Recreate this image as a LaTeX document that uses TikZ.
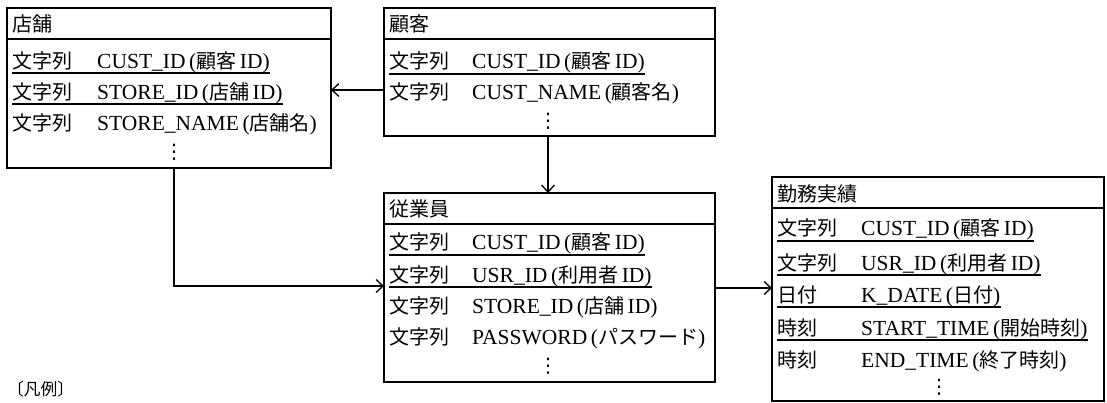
\documentclass[tikz,border=0pt]{standalone}
\usepackage{fontspec}
\setmainfont{Liberation Serif}
\newfontfamily\jpf{Noto Sans CJK JP}[Scale=0.93]
\newfontfamily\symf{DejaVu Sans}
\usetikzlibrary{arrows.meta}
\newcommand\J[1]{{\jpf #1}}
\begin{document}
\begin{tikzpicture}[x=1pt,y=-1pt,
 ent/.style={draw, line width=1.5pt, rectangle, inner sep=0, outer sep=0, anchor=north west},
 txt/.style={inner sep=0, anchor=base west, font=\fontsize{21.5}{25}\selectfont},
 legend/.style={inner sep=0, anchor=base west, font=\fontsize{18}{22}\selectfont},
 ul/.style={line width=1.3pt},
 sepline/.style={line width=1.5pt},
 arr/.style={line width=1.3pt, -{Straight Barb[length=7pt,width=13pt]}},
 dotsn/.style={inner sep=0, font=\symf\fontsize{20}{24}\selectfont}]
\useasboundingbox (0,0) rectangle (1107,403);

% ---------- boxes ----------
\node[ent, minimum width=324pt, minimum height=160pt] (store) at (7,8) {};
\node[ent, minimum width=331pt, minimum height=128pt] (cust) at (384,8) {};
\node[ent, minimum width=331pt, minimum height=189pt] (emp) at (384,193) {};
\node[ent, minimum width=332pt, minimum height=224pt] (work) at (772,177) {};

\draw[sepline] (store.west |- 0,39) -- (store.east |- 0,39);
\draw[sepline] (cust.west |- 0,39) -- (cust.east |- 0,39);
\draw[sepline] (emp.west |- 0,224) -- (emp.east |- 0,224);
\draw[sepline] (work.west |- 0,208) -- (work.east |- 0,208);

% ---------- 店舗 ----------
\node[txt] (st0) at (12,32) {\J{店舗}};
\node[txt] (st1a) at (12,69) {\J{文字列}};
\node[txt] (st1b) at (97,69) {CUST\_ID\,(\J{顧客}\,ID)};
\node[txt] (st2a) at (12,100) {\J{文字列}};
\node[txt] (st2b) at (97,100) {STORE\_ID\,(\J{店舗}\,ID)};
\node[txt] (st3a) at (12,131) {\J{文字列}};
\node[txt] (st3b) at (97,131) {STORE\_NAME\,(\J{店舗名})};
\node[dotsn] (std) at (174,152) {⋮};
\draw[ul] ([yshift=-4pt]st1a.base west) -- ([yshift=-4pt]st1b.base east);
\draw[ul] ([yshift=-4pt]st2a.base west) -- ([yshift=-4pt]st2b.base east);

% ---------- 顧客 ----------
\node[txt] (cu0) at (389,32) {\J{顧客}};
\node[txt] (cu1a) at (389,69) {\J{文字列}};
\node[txt] (cu1b) at (472,69) {CUST\_ID\,(\J{顧客}\,ID)};
\node[txt] (cu2a) at (389,100) {\J{文字列}};
\node[txt] (cu2b) at (472,100) {CUST\_NAME\,(\J{顧客名})};
\node[dotsn] (cud) at (548,121) {⋮};
\draw[ul] ([yshift=-5pt]cu1a.base west) -- ([yshift=-5pt]cu1b.base east);

% ---------- 従業員 ----------
\node[txt] (em0) at (389,217) {\J{従業員}};
\node[txt] (em1a) at (389,250) {\J{文字列}};
\node[txt] (em1b) at (472,250) {CUST\_ID\,(\J{顧客}\,ID)};
\node[txt] (em2a) at (389,282) {\J{文字列}};
\node[txt] (em2b) at (472,282) {USR\_ID\,(\J{利用者}\,ID)};
\node[txt] (em3a) at (389,313) {\J{文字列}};
\node[txt] (em3b) at (472,313) {STORE\_ID\,(\J{店舗}\,ID)};
\node[txt] (em4a) at (389,344) {\J{文字列}};
\node[txt] (em4b) at (472,344) {PASSWORD\,(\J{パスワード})};
\node[dotsn] (emd) at (548,366) {⋮};
\draw[ul] ([yshift=-5pt]em1a.base west) -- ([yshift=-5pt]em1b.base east);
\draw[ul] ([yshift=-5pt]em2a.base west) -- ([yshift=-5pt]em2b.base east);

% ---------- 勤務実績 ----------
\node[txt] (wk0) at (777,202) {\J{勤務実績}};
\node[txt] (wk1a) at (777,236) {\J{文字列}};
\node[txt] (wk1b) at (861,236) {CUST\_ID\,(\J{顧客}\,ID)};
\node[txt] (wk2a) at (777,270) {\J{文字列}};
\node[txt] (wk2b) at (861,270) {USR\_ID\,(\J{利用者}\,ID)};
\node[txt] (wk3a) at (777,302) {\J{日付}};
\node[txt] (wk3b) at (861,302) {K\_DATE\,(\J{日付})};
\node[txt] (wk4a) at (777,335) {\J{時刻}};
\node[txt] (wk4b) at (861,335) {START\_TIME\,(\J{開始時刻})};
\node[txt] (wk5a) at (777,367) {\J{時刻}};
\node[txt] (wk5b) at (861,367) {END\_TIME\,(\J{終了時刻})};
\node[dotsn] (wkd) at (939,387) {⋮};
\draw[ul] ([yshift=-5pt]wk1a.base west) -- ([yshift=-5pt]wk1b.base east);
\draw[ul] ([yshift=-5pt]wk2a.base west) -- ([yshift=-5pt]wk2b.base east);
\draw[ul] ([yshift=-5pt]wk3a.base west) -- ([yshift=-5pt]wk3b.base east);
\draw[ul] ([yshift=-5pt]wk4a.base west) -- ([yshift=-5pt]wk4b.base east);

% ---------- legend ----------
\node[legend] (leg) at (7,395) {\J{〔凡例〕}};

% ---------- connectors ----------
\draw[arr] (cust.west |- 0,90) -- (store.east |- 0,90);
\draw[arr] (cust.south -| 548,0) -- (emp.north -| 548,0);
\draw[arr] (store.south -| 174,0) |- (emp.west |- 0,286);
\draw[arr] (emp.east |- 0,288) -- (work.west |- 0,288);
\end{tikzpicture}
\end{document}
